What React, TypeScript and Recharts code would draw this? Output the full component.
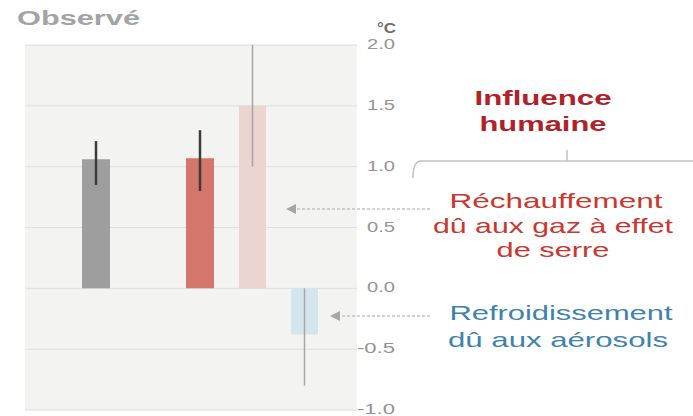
import React from "react";
import {
  ComposedChart,
  Bar,
  Cell,
  ErrorBar,
  XAxis,
  YAxis,
  CartesianGrid,
  Label
} from "recharts";

// categories on the x axis ("" is the empty gap between the two groups)
const categories = ["Observé", "", "Influence humaine", "Gaz à effet de serre", "Aérosols"];

// dark-whisker bars: observed + total human influence
const mainValues = [1.06, null, 1.07, null, null];
const mainErrors: ([number, number] | null)[] = [[0.21, 0.15], null, [0.27, 0.23], null, null];
const mainColors = ["#9e9e9e", "#9e9e9e", "#d4766b", "#d4766b", "#d4766b"];

// light bars: greenhouse gases + aerosols
const lightValues = [null, null, null, 1.5, -0.38];
const lightErrors: ([number, number] | null)[] = [null, null, null, [0.5, 0.5], [0.42, 0.38]];
const lightColors = ["#ecd4d0", "#ecd4d0", "#ecd4d0", "#ecd4d0", "#d3e6ee"];

const yTicks = [-1, -0.5, 0, 0.5, 1, 1.5, 2];

const data = categories.map((name, i) => ({
  name,
  main: mainValues[i],
  mainErr: mainErrors[i],
  light: lightValues[i],
  lightErr: lightErrors[i]
}));

const AXIS_FONT = "'Liberation Sans', Arial, sans-serif";

const YTick = (props: any) => {
  const { x, y, payload } = props;
  const label = Number(payload.value).toFixed(1);
  return (
    <text
      x={x + 30}
      y={Math.min(y + 4, 414)}
      textAnchor="end"
      fill="#949494"
      fontSize={14}
      fontFamily={AXIS_FONT}
      textLength={label.startsWith("-") ? 38 : 28}
      lengthAdjust="spacingAndGlyphs"
    >
      {label}
    </text>
  );
};

const Overlay = () => (
  <svg
    width={693}
    height={416}
    style={{ position: "absolute", left: 0, top: 0, pointerEvents: "none" }}
    fontFamily={AXIS_FONT}
  >
    <text x={17} y={25} fill="#a3a3a3" fontSize={20} fontWeight="bold" textLength={123} lengthAdjust="spacingAndGlyphs">
      Observé
    </text>

    {/* bracket for "Influence humaine" */}
    <path d="M413,178 Q413,161 421,161 L693,161" fill="none" stroke="#c2c2c2" strokeWidth={1.5} />
    <line x1={567} y1={161} x2={567} y2={150} stroke="#c2c2c2" strokeWidth={1.5} />

    {/* arrows */}
    <line x1={430} y1={209} x2={294} y2={209} stroke="#c4c4c4" strokeWidth={1.5} strokeDasharray="3 2" />
    <path d="M286,209 L296,204 L296,214 Z" fill="#a6a6a6" />
    <line x1={430} y1={316} x2={338} y2={316} stroke="#c4c4c4" strokeWidth={1.5} strokeDasharray="3 2" />
    <path d="M330,316 L340,311 L340,321 Z" fill="#a6a6a6" />

    <g textAnchor="middle">
      <text x={543} y={105} fill="#b0212a" fontSize={21} fontWeight="bold" textLength={137} lengthAdjust="spacingAndGlyphs">Influence</text>
      <text x={543} y={131} fill="#b0212a" fontSize={21} fontWeight="bold" textLength={127} lengthAdjust="spacingAndGlyphs">humaine</text>

      <text x={556} y={208} fill="#c9372f" fontSize={21} textLength={213} lengthAdjust="spacingAndGlyphs">Réchauffement</text>
      <text x={553} y={233} fill="#c9372f" fontSize={21} textLength={240} lengthAdjust="spacingAndGlyphs">dû aux gaz à effet</text>
      <text x={553} y={257} fill="#c9372f" fontSize={21} textLength={113} lengthAdjust="spacingAndGlyphs">de serre</text>

      <text x={561} y={320} fill="#3f82ad" fontSize={21} textLength={223} lengthAdjust="spacingAndGlyphs">Refroidissement</text>
      <text x={558} y={347} fill="#3f82ad" fontSize={21} textLength={220} lengthAdjust="spacingAndGlyphs">dû aux aérosols</text>
    </g>
  </svg>
);

export default function App() {
  return (
    <div style={{ position: "absolute", left: 0, top: 0, width: 693, height: 416, background: "#fff" }}>
      <ComposedChart
        width={693}
        height={416}
        data={data}
        margin={{ top: 45, right: 296, bottom: 0, left: 25 }}
      >
        <CartesianGrid vertical={false} stroke="#dedede" fill="#f3f3f1" />
        <XAxis
          dataKey="name"
          height={6}
          padding={{ left: 45, right: 27 }}
          ticks={["Observé", "Influence humaine"]}
          tick={false}
          tickLine={{ stroke: "#c8c8c8" }}
          tickSize={6}
          axisLine={false}
          interval={0}
        />
        <XAxis xAxisId="light" dataKey="name" hide padding={{ left: 45, right: 27 }} />
        <YAxis
          orientation="right"
          width={40}
          domain={[-1, 2]}
          ticks={yTicks}
          axisLine={false}
          tickLine={false}
          tick={<YTick />}
          interval={0}
        >
          <Label
            content={(props: any) => {
              const vb = props.viewBox;
              return (
                <text x={vb.x + 39} y={vb.y - 12} textAnchor="end" fill="#6e6e6e" fontSize={15} fontWeight="bold" fontFamily={AXIS_FONT} textLength={19} lengthAdjust="spacingAndGlyphs">
                  °C
                </text>
              );
            }}
          />
        </YAxis>
        <Bar dataKey="main" barSize={28} isAnimationActive={false}>
          {data.map((d, i) => (
            <Cell key={d.name + i} fill={mainColors[i]} />
          ))}
          <ErrorBar dataKey="mainErr" width={0} stroke="#3c3c3c" strokeWidth={2.5} />
        </Bar>
        <Bar dataKey="light" xAxisId="light" barSize={27} isAnimationActive={false}>
          {data.map((d, i) => (
            <Cell key={d.name + i} fill={lightColors[i]} />
          ))}
          <ErrorBar dataKey="lightErr" width={0} stroke="#aaa4a4" strokeWidth={1.5} />
        </Bar>
      </ComposedChart>
      <Overlay />
    </div>
  );
}
